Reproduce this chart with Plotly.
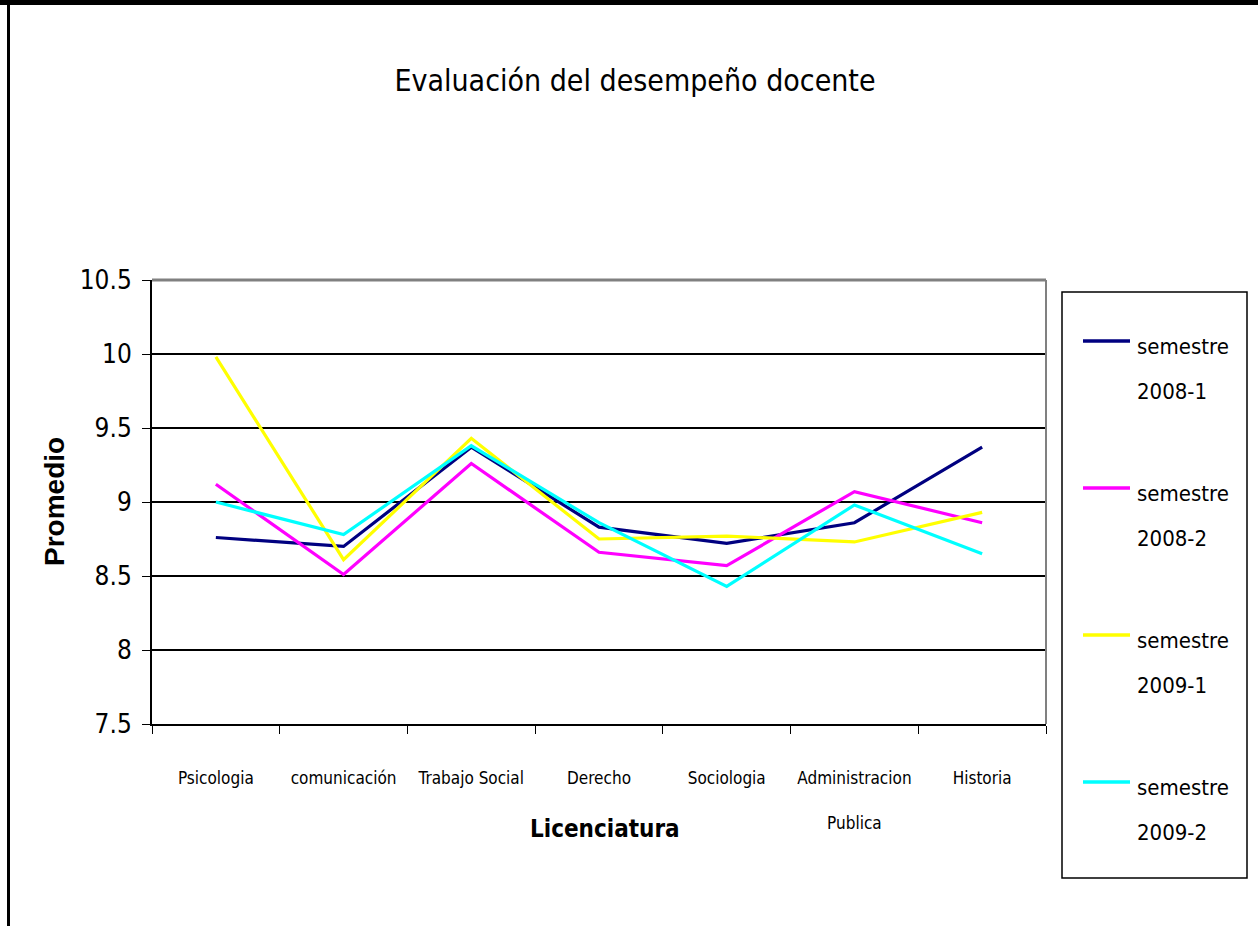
import plotly.graph_objects as go

# Licenciaturas evaluated
categorias = ["Psicologia", "comunicación", "Trabajo Social", "Derecho",
              "Sociologia", "Administracion<br><br>Publica", "Historia"]

# Average score per semester
sem_2008_1 = [8.76, 8.70, 9.37, 8.83, 8.72, 8.86, 9.37]
sem_2008_2 = [9.12, 8.51, 9.26, 8.66, 8.57, 9.07, 8.86]
sem_2009_1 = [9.98, 8.61, 9.43, 8.75, 8.77, 8.73, 8.93]
sem_2009_2 = [9.00, 8.78, 9.38, 8.86, 8.43, 8.98, 8.65]

series_nombres = ["semestre 2008-1", "semestre 2008-2",
                  "semestre 2009-1", "semestre 2009-2"]
series_valores = [sem_2008_1, sem_2008_2, sem_2009_1, sem_2009_2]
series_colores = ["#000080", "#FF00FF", "#FFFF00", "#00FFFF"]

W, H = 1258, 926
L, R, T, B = 152, 1046, 280, 724
NARROW = "DejaVu Sans Condensed, Liberation Sans Narrow, sans-serif"


def px(x):
    return (x - L) / (R - L)


def py(y):
    return (B - y) / (B - T)


fig = go.Figure()
for nombre, vals, col in zip(series_nombres, series_valores, series_colores):
    fig.add_trace(go.Scatter(
        x=categorias, y=vals, mode="lines", name=nombre,
        line=dict(color=col, width=3.2), showlegend=False,
    ))

annotations = [
    dict(text="<b>Promedio</b>", textangle=-90, x=px(54), y=py(502),
         xref="paper", yref="paper", xanchor="center", yanchor="middle",
         showarrow=False,
         font=dict(family="Liberation Sans, Arial, sans-serif", size=28, color="black")),
    dict(text="<b>Licenciatura</b>", x=px(605), y=py(829),
         xref="paper", yref="paper", xanchor="center", yanchor="middle",
         showarrow=False,
         font=dict(family=NARROW, size=24, color="black")),
]

shapes = [
    # gray plot-area border on top and right
    dict(type="line", xref="paper", yref="paper", x0=0, x1=1, y0=1, y1=1,
         line=dict(color="#808080", width=3)),
    dict(type="line", xref="paper", yref="paper", x0=1, x1=1, y0=0, y1=1,
         line=dict(color="#808080", width=2)),
    # legend box
    dict(type="rect", xref="paper", yref="paper",
         x0=px(1062), x1=px(1247), y0=py(878), y1=py(292),
         line=dict(color="black", width=1.5), fillcolor="rgba(0,0,0,0)"),
    # outer chart frame
    dict(type="line", xref="paper", yref="paper",
         x0=px(0), x1=px(W + 10), y0=py(2.5), y1=py(2.5),
         line=dict(color="black", width=5)),
    dict(type="line", xref="paper", yref="paper",
         x0=px(8.5), x1=px(8.5), y0=py(0), y1=py(H + 10),
         line=dict(color="black", width=3)),
]

# Legend: line sample plus two-line label for every series
LEG_TOP, LEG_STEP = 341, 147
for i, (nombre, col) in enumerate(zip(series_nombres, series_colores)):
    yl = LEG_TOP + i * LEG_STEP
    shapes.append(dict(type="line", xref="paper", yref="paper",
                       x0=px(1083), x1=px(1130), y0=py(yl), y1=py(yl),
                       line=dict(color=col, width=3.5)))
    palabra, periodo = nombre.split(" ")
    for txt, yt in ((palabra, yl + 5), (periodo, yl + 50)):
        annotations.append(dict(
            text=txt, x=px(1135), y=py(yt), xref="paper", yref="paper",
            xanchor="left", yanchor="middle", showarrow=False,
            font=dict(family=NARROW, size=22, color="black"),
        ))

fig.update_layout(
    width=W, height=H,
    margin=dict(l=L, r=W - R, t=T, b=H - B, autoexpand=False),
    paper_bgcolor="white", plot_bgcolor="white",
    showlegend=False,
    title=dict(
        text="Evaluación del desempeño docente",
        x=px(635), xref="paper", xanchor="center",
        y=1 - 80 / H, yref="container", yanchor="middle",
        font=dict(family=NARROW, size=30, color="black"),
    ),
    xaxis=dict(
        type="category", tickson="boundaries", range=[-0.5, 6.5],
        ticks="outside", ticklen=8, tickcolor="black", tickwidth=1,
        showgrid=False, showline=True, linecolor="black", linewidth=2,
        ticklabelstandoff=38, tickangle=0,
        tickfont=dict(family=NARROW, size=17, color="black"),
    ),
    yaxis=dict(
        range=[7.5, 10.5], dtick=0.5,
        ticks="outside", ticklen=8, tickcolor="black", tickwidth=1,
        showgrid=True, gridcolor="black", gridwidth=2,
        showline=True, linecolor="black", linewidth=2,
        zeroline=False, ticklabelstandoff=5,
        tickfont=dict(family=NARROW, size=26, color="black"),
    ),
    annotations=annotations,
    shapes=shapes,
)

fig.write_html("out.html")
